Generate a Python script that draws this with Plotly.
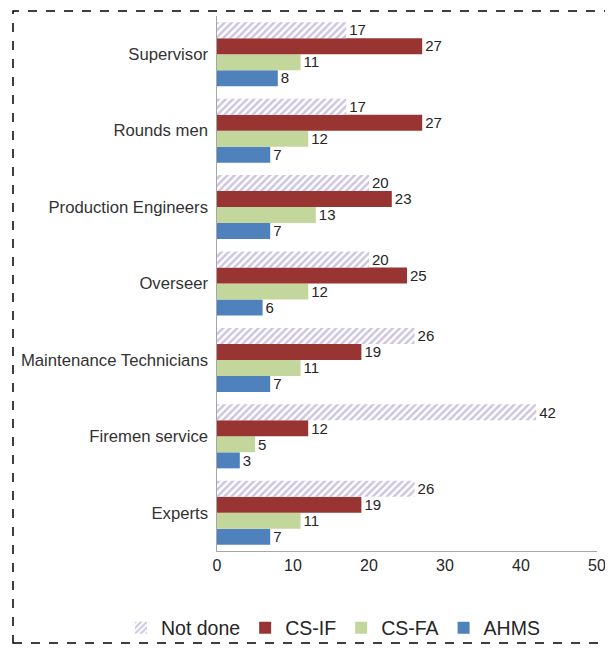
import plotly.graph_objects as go

categories = ["Supervisor", "Rounds men", "Production Engineers", "Overseer",
              "Maintenance Technicians", "Firemen service", "Experts"]
not_done = [17, 17, 20, 20, 26, 42, 26]
cs_if = [27, 27, 23, 25, 19, 12, 19]
cs_fa = [11, 12, 13, 12, 11, 5, 11]
ahms = [8, 7, 7, 6, 7, 3, 7]
x_ticks = [0, 10, 20, 30, 40, 50]

font = "Liberation Sans, Arial, sans-serif"
fig = go.Figure()

series = [
    ("AHMS", ahms, dict(color="#4F81BD")),
    ("CS-FA", cs_fa, dict(color="#C3D69B")),
    ("CS-IF", cs_if, dict(color="#983532")),
    ("Not done", not_done, dict(color="white",
                                pattern=dict(shape="/", fgcolor="#9C8CC2", bgcolor="white",
                                             size=5, solidity=0.5))),
]
for name, vals, marker in series:
    fig.add_trace(go.Bar(
        y=categories, x=vals, name=name, orientation="h",
        marker=marker, marker_line_width=0,
        text=[str(v) for v in vals], textposition="outside",
        textfont=dict(size=16, color="#262626", family=font),
        cliponaxis=False,
    ))

# page has an 8px body margin; figure area is offset by (8, 8)
W, H = 605, 643
L, R, T, B = 209, 16, 8, 100
pw, ph = W - L - R, H - T - B

fig.update_layout(
    width=W, height=H,
    margin=dict(l=L, r=R, t=T, b=B, autoexpand=False),
    barmode="group", bargap=0.163, bargroupgap=0,
    plot_bgcolor="white", paper_bgcolor="white",
    font=dict(family=font, size=16, color="#333333"),
    legend=dict(orientation="h", traceorder="reversed",
                x=(113 - L) / pw, xanchor="left",
                y=-(620 - (H - B)) / ph, yanchor="middle",
                font=dict(size=19.5, color="#262626"),
                itemwidth=30, bgcolor="rgba(0,0,0,0)"),
    xaxis=dict(range=[0, 50], tickvals=x_ticks, showgrid=False, zeroline=False,
               showline=True, linecolor="#A6A6A6", linewidth=1, ticks="",
               tickfont=dict(size=16, color="#262626")),
    yaxis=dict(categoryorder="array", categoryarray=categories[::-1],
               showgrid=False, showline=True, linecolor="#A6A6A6", linewidth=1,
               ticks="", ticksuffix=" ", tickfont=dict(size=16.7, color="#333333")),
    shapes=[dict(type="rect", xref="paper", yref="paper",
                 x0=(5 - L) / pw, x1=(601 - L) / pw,
                 y0=-(635 - (H - B)) / ph, y1=1 + (T - 3) / ph,
                 line=dict(color="black", width=1.5, dash="dash"))],
)
fig.write_html("out.html")
